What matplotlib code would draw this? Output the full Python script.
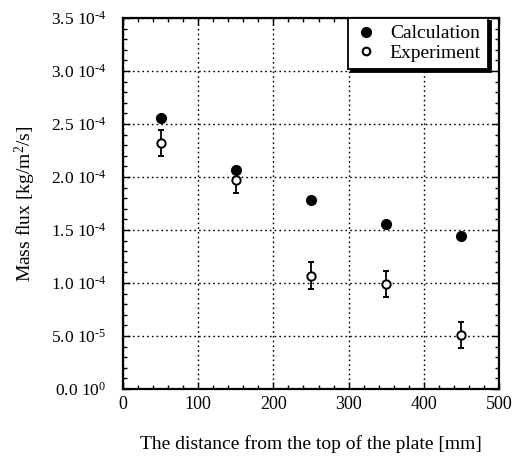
import matplotlib
matplotlib.use("Agg")
import matplotlib.pyplot as plt
from matplotlib.lines import Line2D
from matplotlib.ticker import MultipleLocator, FuncFormatter
import numpy as np

# ── Data ──────────────────────────────────────────────────────────────────────
distance    = [50, 150, 250, 350, 450]                         # mm
calc_flux   = [2.56e-4, 2.07e-4, 1.78e-4, 1.56e-4, 1.44e-4]    # kg/m2/s
exp_flux    = [2.32e-4, 1.97e-4, 1.07e-4, 0.99e-4, 0.51e-4]
exp_err     = [0.12e-4, 0.12e-4, 0.13e-4, 0.12e-4, 0.12e-4]

plt.rcParams.update({
    "font.family": "Liberation Serif",
    "mathtext.fontset": "custom",
    "mathtext.rm": "Liberation Serif",
    "mathtext.it": "Liberation Serif:italic",
    "font.size": 13,
})

fig = plt.figure(figsize=(5.16, 4.59), dpi=100)
ax = fig.add_axes([123 / 516, 1 - 389 / 459, 376 / 516, 371 / 459])

ax.plot(distance, calc_flux, "o", color="black", markersize=7, zorder=4)
ax.errorbar(distance, exp_flux, yerr=exp_err, fmt="o", color="black", mfc="white",
            mec="black", markersize=6, mew=1.4, elinewidth=1.3, capsize=2.5,
            capthick=1.3, zorder=4)

ax.set_xlim(0, 500)
ax.set_ylim(0, 3.5e-4)
ax.xaxis.set_major_locator(MultipleLocator(100))
ax.xaxis.set_minor_locator(MultipleLocator(20))
ax.yaxis.set_major_locator(MultipleLocator(0.5e-4))
ax.yaxis.set_minor_locator(MultipleLocator(0.1e-4))


def sci_fmt(v, pos):
    # old-style "2.5 10-4" labels, hyphen in the exponent
    if abs(v) < 1e-12:
        return r"0.0 10$^{\text{0}}$"
    exp = int(np.floor(np.log10(abs(v))))
    return rf"{v / 10**exp:.1f} 10$^{{\text{{-{abs(exp)}}}}}$"


ax.yaxis.set_major_formatter(FuncFormatter(sci_fmt))
ax.tick_params(which="both", direction="in", top=True, right=True, width=1)
ax.tick_params(axis="x", labelsize=13, pad=5)
ax.tick_params(axis="y", labelsize=12.5, pad=12)
ax.tick_params(which="major", length=5)
ax.tick_params(which="minor", length=3)
for s in ax.spines.values():
    s.set_linewidth(1.6)

ax.grid(True, which="major", linestyle=(0, (1.2, 2.2)), color="black", linewidth=1)

ax.set_xlabel("The distance from the top of the plate [mm]", fontsize=14)
ax.set_ylabel(r"Mass flux [kg/m$^2$/s]", fontsize=14)
ax.xaxis.set_label_coords(0.5, -0.125)
ax.yaxis.set_label_coords(-0.225, 0.5)

handles = [
    Line2D([], [], ls="none", marker="o", color="black", markersize=7),
    Line2D([], [], ls="none", marker="o", mfc="white", mec="black", mew=1.5, markersize=5.5),
]
leg = ax.legend(handles, ["Calculation", "Experiment"], loc="upper right",
                bbox_to_anchor=(0.97, 1.0), frameon=True, fancybox=False,
                shadow={"ox": 2.5, "oy": -2.5, "color": "black", "alpha": 1},
                fontsize=14, handletextpad=0.6, borderpad=0.35,
                labelspacing=0.1, handlelength=1.2, borderaxespad=0.0)
leg.get_frame().set_edgecolor("black")
leg.get_frame().set_linewidth(1.3)
leg.get_frame().set_alpha(1)

fig.savefig("out.png", dpi=100)
